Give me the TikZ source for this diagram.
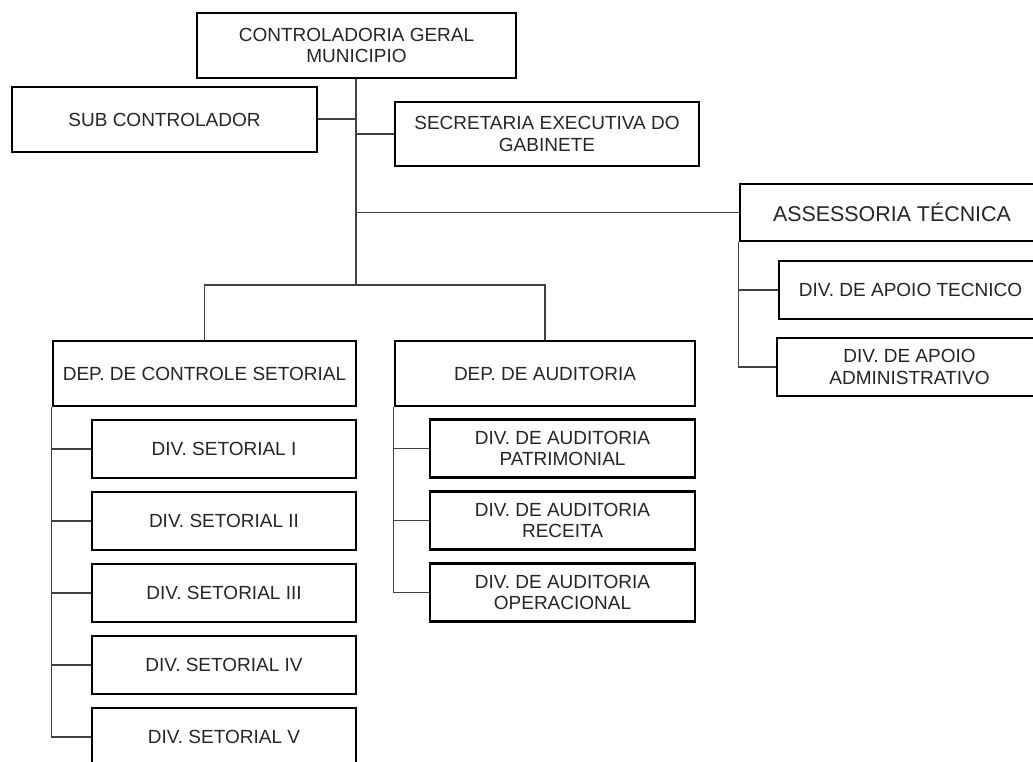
\documentclass[tikz,border=0pt]{standalone}
\usepackage{fontspec}
\setmainfont{Liberation Sans}
\tikzset{
  unidade/.style={draw=black, line width=2.4pt, fill=white, inner sep=0pt,
    align=center, text=black!85, font=\fontsize{19}{21.5}\selectfont},
  divset/.style={unidade, minimum width=264pt, minimum height=58pt},
  divaud/.style={unidade, minimum width=265pt, minimum height=58pt},
  ligacao/.style={draw=black!75, line width=1.3pt},
}
\begin{document}
\begin{tikzpicture}[x=1pt,y=-1pt]
\useasboundingbox (0,0) rectangle (1033,762);
\clip (0,0) rectangle (1033,762);
% ligacoes
\coordinate (parte) at (356,285);
\draw[ligacao] (356,78) -- (parte);
\draw[ligacao] (317,119) -- (356,119);
\draw[ligacao] (356,134) -- (395,134);
\draw[ligacao] (356,212.5) -- (740,212.5);
\draw[ligacao] (204.5,341) |- (parte) -| (545,341);
% nos
\node[unidade, minimum width=319pt, minimum height=65pt] (cgm) at (356.5,45.5) {CONTROLADORIA GERAL\\MUNICIPIO};
\node[unidade, minimum width=305pt, minimum height=65pt] (sub) at (164.5,119.5) {SUB CONTROLADOR};
\node[unidade, minimum width=304pt, minimum height=64pt] (sec) at (547,134) {SECRETARIA EXECUTIVA DO\\GABINETE};
\node[unidade, minimum width=304pt, minimum height=57pt, font=\fontsize{21.4}{24}\selectfont] (asse) at (892,212.5) {ASSESSORIA TÉCNICA};
\node[unidade, minimum width=263pt, minimum height=58pt] (tec) at (910.5,290) {DIV. DE APOIO TECNICO};
\node[unidade, minimum width=265pt, minimum height=58pt] (adm) at (909.5,367) {DIV. DE APOIO\\ADMINISTRATIVO};
\node[unidade, minimum width=303pt, minimum height=65pt] (ctrl) at (204.5,373.5) {DEP. DE CONTROLE SETORIAL};
\node[unidade, minimum width=300pt, minimum height=65pt] (aud) at (545,373.5) {DEP. DE AUDITORIA};
\foreach \rom [count=\i] in {I,II,III,IV,V}
  \node[divset] (set\i) at (224,377+72*\i) {DIV. SETORIAL \rom};
\foreach \nome [count=\i] in {PATRIMONIAL,RECEITA,OPERACIONAL}
  \node[divaud] (aud\i) at (562.5,376.5+72*\i) {DIV. DE AUDITORIA\\\nome};
% ramos
\foreach \i in {1,...,5}
  \draw[ligacao] (ctrl.south west) |- (set\i.west);
\foreach \i in {1,2,3}
  \draw[ligacao] (aud.south west) |- (aud\i.west);
\draw[ligacao] (asse.south west) |- (tec.west);
\draw[ligacao] (asse.south west) |- (adm.west);
\end{tikzpicture}
\end{document}
